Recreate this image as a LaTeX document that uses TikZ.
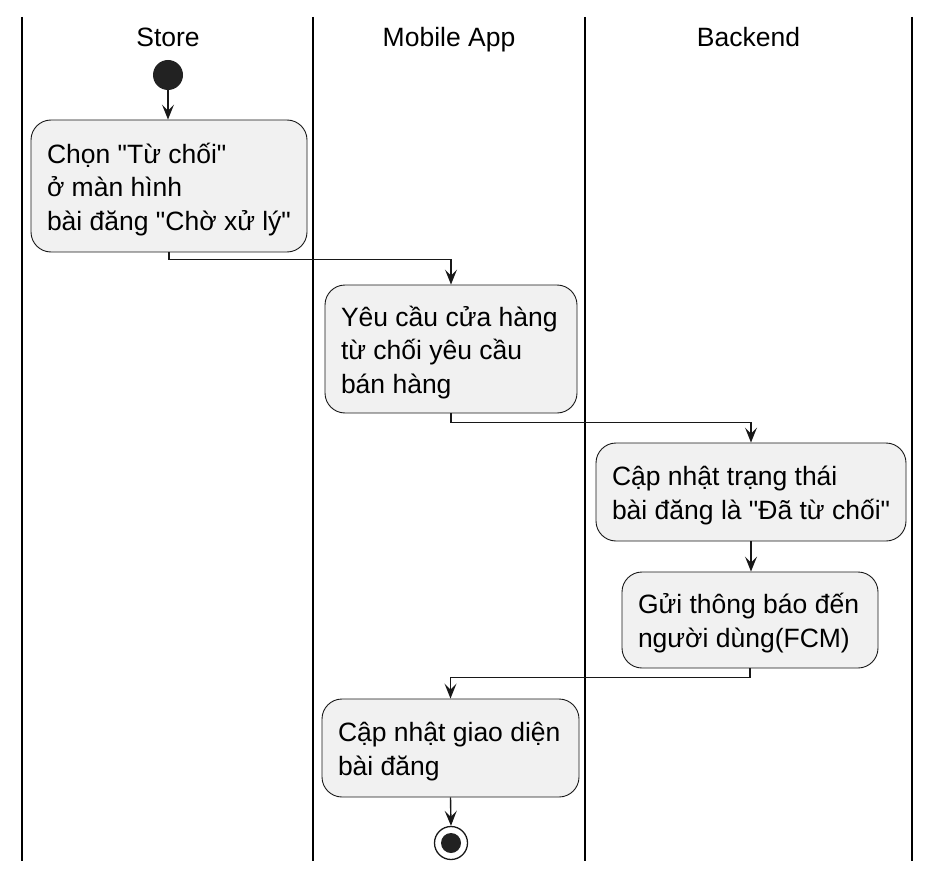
\documentclass[tikz,border=0pt]{standalone}
\usepackage{fontspec}
\setmainfont{Liberation Sans}[Ligatures=TeXOff]
\usetikzlibrary{arrows.meta}
\definecolor{boxfill}{HTML}{F1F1F1}
\definecolor{boxline}{HTML}{181818}
\definecolor{dot}{HTML}{222222}
\newcommand{\boxtext}[2]{\makebox[#1][l]{\begin{tabular}{@{}l@{}}\rule{0pt}{31.5pt}#2\end{tabular}}}
\begin{document}
\begin{tikzpicture}[x=1pt,y=-1pt,
  font=\fontsize{26.5}{33.5}\selectfont,
  lane/.style={line width=2pt,draw=black},
  actbox/.style={draw=boxline,line width=0.9pt,fill=boxfill,rounded corners=20pt,inner sep=0pt},
  conn/.style={draw=boxline,line width=1.4pt,-{Stealth[length=15pt,width=12pt,inset=6pt]}},
  hdr/.style={anchor=base,inner sep=0pt}]
\useasboundingbox (0,0) rectangle (939,877);
% lanes
\draw[lane] (22,17) -- (22,861);
\draw[lane] (313,17) -- (313,861);
\draw[lane] (585,17) -- (585,861);
\draw[lane] (912,17) -- (912,861);
\node[hdr] (h1) at (168,46.5) {Store};
\node[hdr] (h2) at (449,46.5) {Mobile App};
\node[hdr] (h3) at (748.5,46.5) {Backend};
% start
\node[circle,fill=dot,inner sep=0pt,minimum size=30pt] (start) at (168,75) {};
% boxes
\node[actbox,minimum width=276pt,minimum height=132pt] (b1) at (169,186)
  {\boxtext{244pt}{Chọn "Từ chối"\\ở màn hình\\bài đăng "Chờ xử lý"}};
\node[actbox,minimum width=252pt,minimum height=128pt] (b2) at (451,349)
  {\boxtext{220pt}{Yêu cầu cửa hàng\\từ chối yêu cầu\\bán hàng}};
\node[actbox,minimum width=310pt,minimum height=98pt] (b3) at (751,492)
  {\boxtext{278pt}{Cập nhật trạng thái\\bài đăng là "Đã từ chối"}};
\node[actbox,minimum width=256pt,minimum height=96pt] (b4) at (750,620)
  {\boxtext{224pt}{Gửi thông báo đến\\người dùng(FCM)}};
\node[actbox,minimum width=257pt,minimum height=98pt] (b5) at (450.5,748)
  {\boxtext{225pt}{Cập nhật giao diện\\bài đăng}};
% end
\node[circle,draw=boxline,line width=1.3pt,fill=white,inner sep=0pt,minimum size=33pt] (end) at (451,843) {};
\node[circle,fill=dot,inner sep=0pt,minimum size=20pt] (endin) at (end.center) {};
% connectors
\draw[conn] (start.south) -- (start.south |- b1.north);
\draw[conn] (b1.south) -- ++(0,7) -| (b2.north);
\draw[conn] (b2.south) -- ++(0,9) -| (b3.north);
\draw[conn] (b3.south) -- (b3.south |- b4.north);
\draw[conn] (b4.south) -- ++(0,9) -| (b5.north);
\draw[conn] (b5.south) -- (end.north);
\end{tikzpicture}
\end{document}
